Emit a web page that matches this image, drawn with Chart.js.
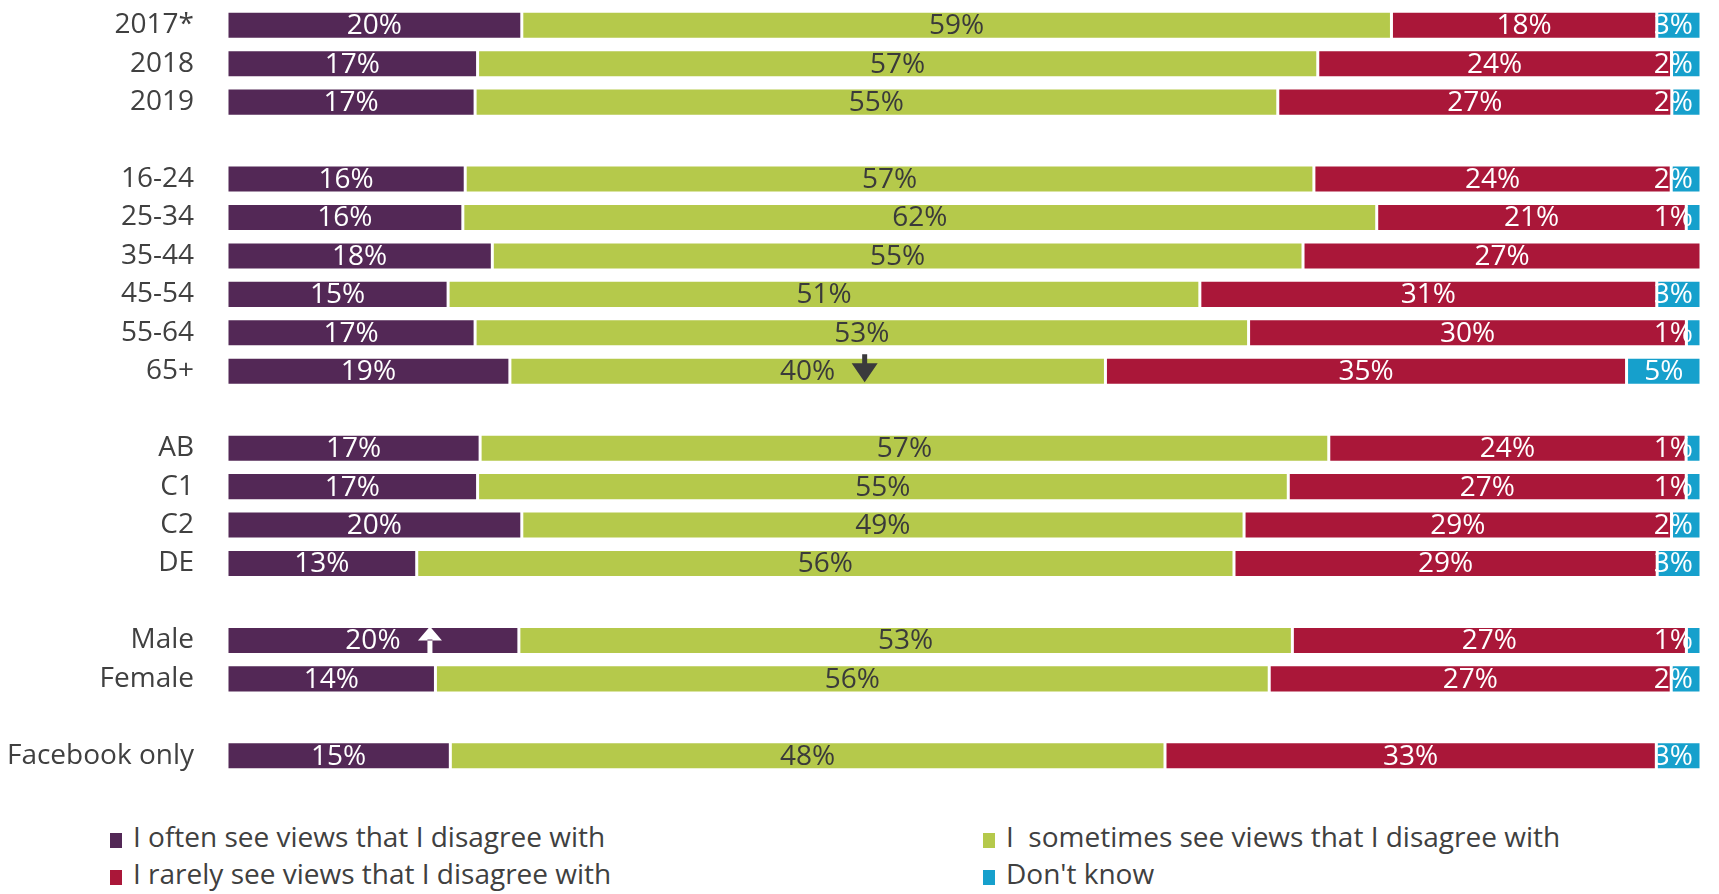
<!DOCTYPE html>
<html>
<head>
<meta charset="utf-8">
<script src="https://cdn.jsdelivr.net/npm/chart.js@4.4.1/dist/chart.umd.min.js"></script>
<style>
  html, body { margin: 0; padding: 0; background: #fff; }
  body { width: 1719px; height: 894px; position: relative; overflow: hidden; font-family: "Open Sans", sans-serif; }
  #wrap { position: absolute; left: 0; top: 0; width: 1719px; height: 790px; }
  .legend { position: absolute; color: #404040; font-size: 28px; line-height: 32px; white-space: nowrap; }
  .legend .sw { display: inline-block; width: 12px; height: 15px; margin-right: 11px; vertical-align: -1px; }
</style>
</head>
<body>
<div id="wrap"><canvas id="views-chart"></canvas></div>
<div class="legend" style="left:110px; top:820px;"><span class="sw" style="background:#532856"></span>I often see views that I disagree with</div>
<div class="legend" style="left:983px; top:820px;"><span class="sw" style="background:#b5c94b"></span>I&nbsp; sometimes see views that I disagree with</div>
<div class="legend" style="left:110px; top:857px;"><span class="sw" style="background:#aa1739"></span>I rarely see views that I disagree with</div>
<div class="legend" style="left:983px; top:857px;"><span class="sw" style="background:#16a0cc"></span>Don't know</div>

<script>
// rows, blank entries are spacers between the groups
var categories = ['2017*', '2018', '2019', '',
    '16-24', '25-34', '35-44', '45-54', '55-64', '65+', '',
    'AB', 'C1', 'C2', 'DE', '',
    'Male', 'Female', '',
    'Facebook only'];

var often     = [20, 17, 17, null, 16, 16, 18, 15, 17, 19, null, 17, 17, 20, 13, null, 20, 14, null, 15];
var sometimes = [59, 57, 55, null, 57, 62, 55, 51, 53, 40, null, 57, 55, 49, 56, null, 53, 56, null, 48];
var rarely    = [18, 24, 27, null, 24, 21, 27, 31, 30, 35, null, 24, 27, 29, 29, null, 27, 27, null, 33];
var dontKnow  = [3, 2, 2, null, 2, 1, 0, 3, 1, 5, null, 1, 1, 2, 3, null, 1, 2, null, 3];

var seriesNames = ['I often see views that I disagree with', 'I  sometimes see views that I disagree with',
    'I rarely see views that I disagree with', "Don't know"];
var seriesColors = ['#532856', '#b5c94b', '#aa1739', '#16a0cc'];
var labelColors = ['#ffffff', '#3a3a3a', '#ffffff', '#ffffff'];

// significance markers: row, series index, direction
var arrows = [
    { row: '65+', series: 1, dir: 'down', color: '#3a3a3c' },
    { row: 'Male', series: 0, dir: 'up', color: '#ffffff' }
];

var raw = [often, sometimes, rarely, dontKnow];

// 100% stacked: each row scaled to its own total
var totals = categories.map(function (c, j) {
    var t = 0;
    raw.forEach(function (s) { t += s[j] || 0; });
    return t;
});
function share(series) {
    return series.map(function (v, j) {
        return v === null ? null : v / totals[j] * 100;
    });
}

var FONT = '"Open Sans", sans-serif';

var segmentLabels = {
    id: 'segmentLabels',
    afterDatasetsDraw: function (chart) {
        var ctx = chart.ctx;
        var area = chart.chartArea;
        ctx.save();
        ctx.font = '28px ' + FONT;
        ctx.textAlign = 'center';
        ctx.textBaseline = 'middle';
        raw.forEach(function (series, i) {
            var meta = chart.getDatasetMeta(i);
            meta.data.forEach(function (bar, j) {
                var v = series[j];
                if (!v) return;
                var text = v + '%';
                var w = ctx.measureText(text).width;
                var cx = (bar.base + bar.x) / 2;
                cx = Math.min(cx, area.right - 8 - w / 2);
                ctx.fillStyle = labelColors[i];
                ctx.fillText(text, cx, bar.y + 1);

                arrows.forEach(function (a) {
                    if (a.series !== i || categories[j] !== a.row) return;
                    var ax = cx + 57;
                    var y = bar.y;
                    ctx.fillStyle = a.color;
                    ctx.beginPath();
                    if (a.dir === 'down') {
                        ctx.rect(ax - 2.5, y - 17, 5, 10);
                        ctx.moveTo(ax - 13, y - 8);
                        ctx.lineTo(ax + 13, y - 8);
                        ctx.lineTo(ax, y + 11);
                    } else {
                        ctx.rect(ax - 2.5, y - 1, 5, 14);
                        ctx.moveTo(ax - 12, y);
                        ctx.lineTo(ax + 12, y);
                        ctx.lineTo(ax, y - 14);
                    }
                    ctx.closePath();
                    ctx.fill();
                });
            });
        });
        ctx.restore();
    }
};

new Chart(document.getElementById('views-chart'), {
    type: 'bar',
    data: {
        labels: categories,
        datasets: raw.map(function (s, i) {
            return {
                label: seriesNames[i],
                data: share(s),
                backgroundColor: seriesColors[i],
                borderColor: '#ffffff',
                borderWidth: 1.5,
                borderSkipped: false,
                barPercentage: 0.73,
                categoryPercentage: 1
            };
        })
    },
    options: {
        indexAxis: 'y',
        responsive: true,
        maintainAspectRatio: false,
        animation: false,
        layout: { padding: { left: 0, right: 18, top: 6, bottom: 15 } },
        plugins: {
            legend: { display: false },
            tooltip: { enabled: false }
        },
        scales: {
            x: { stacked: true, min: 0, max: 100, display: false },
            y: {
                stacked: true,
                grid: { display: false },
                border: { display: false },
                ticks: { color: '#404040', font: { family: FONT, size: 28 }, padding: 25, autoSkip: false },
                afterFit: function (scale) {
                    scale.width = 227;
                    scale.paddingTop = 0;
                    scale.paddingBottom = 0;
                }
            }
        }
    },
    plugins: [segmentLabels]
});
</script>
</body>
</html>
